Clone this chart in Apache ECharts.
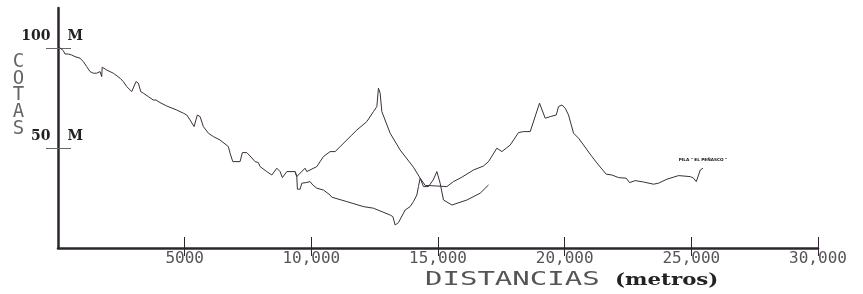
<!DOCTYPE html>
<html lang="es">
<head>
  <meta charset="utf-8">
  <title>Perfil - cotas vs distancias</title>
</head>
<body style="margin: 0; background: #fff">
  <div id="container" style="width: 863px; height: 294px"></div>
  <script src="https://cdn.jsdelivr.net/npm/echarts@6/dist/echarts.min.js"></script>
  <script>
    // perfil 1: desde el origen hasta ~17 km
    var distA = [12, 209, 276, 407, 541, 671, 869, 999, 1133, 1264, 1394, 1528, 1659, 1726, 1745, 1923, 2184, 2448, 2579, 2713,
      2910, 2974, 3080, 3171, 3266, 3369, 3566, 3763, 3870, 4028, 4293, 4687, 4948, 5082, 5213, 5371, 5501, 5608, 5738, 5935,
      6133, 6397, 6725, 6792, 6899, 6962, 7187, 7278, 7452, 7582, 7780, 7910, 7977, 8242, 8439, 8637, 8767, 8858, 9032, 9359,
      9426, 9450, 9557, 9624, 9794, 9952, 10058, 10216, 10477, 10741, 10808, 11401, 12056, 12451, 13111, 13217, 13308, 13439, 13506, 13703,
      13900, 14031, 14165, 14228, 14296, 14427, 14623, 14809, 14955, 15085, 15216, 15548, 16140, 16665, 16993];
    var elevA = [100.7, 98.7, 97, 97, 96.5, 95.7, 94.9, 93.2, 90.7, 88.2, 87.4, 87.4, 88.2, 85.7, 90.4, 89, 87.4, 84.9, 83.2, 80.7,
      78.2, 79, 83.2, 82.4, 78.2, 77.4, 75.7, 74, 74, 72.7, 71, 69, 67.4, 66.5, 64, 60.7, 66.5, 65.7, 60.7, 57.4,
      55.7, 54, 50.7, 47.4, 43.2, 43.7, 43.2, 47.7, 47.7, 46, 43.2, 42.7, 40.7, 38.2, 36.5, 39.9, 38.2, 35.2, 38.2, 38.2,
      35.7, 29.4, 29.4, 32.4, 32.7, 33.2, 31.5, 29.9, 29, 26.5, 25.4, 23.2, 20.7, 19.9, 16.5, 15.7, 11.5, 12.7, 13.2, 19,
      20.7, 23.2, 26.5, 30.7, 34.9, 30.7, 30.7, 34, 38.2, 32.4, 24, 21.5, 24, 27.4, 31.5];

    // perfil 2: desde ~9.4 km hasta la pila
    var distB = [9359, 9426, 9752, 9820, 10216, 10477, 10741, 10939, 11598, 11796, 12191, 12451, 12586, 12649, 12716, 12783, 13111, 13506, 14031, 14296,
      14493, 14955, 15350, 15611, 15942, 16400, 16795, 16993, 17324, 17522, 17850, 18178, 18245, 18375, 18640, 19007, 19232, 19430, 19667, 19758,
      19891, 20022, 20152, 20350, 20547, 20745, 21076, 21337, 21641, 21866, 22127, 22431, 22561, 22786, 23114, 23509, 23706, 24038, 24496, 24958,
      25088, 25195, 25353, 25459];
    var elevB = [38.2, 35.7, 39.9, 38.2, 40.7, 45.7, 48.2, 48.2, 56.5, 59, 63.2, 68.2, 70.7, 79.9, 77.4, 68.2, 57.4, 49, 40.4, 34.9,
      31.3, 31, 30.7, 33.2, 35.4, 39, 41, 43.2, 49.9, 48.2, 51.5, 57.7, 57, 58.2, 58.2, 72.4, 64.9, 65.7, 66.5, 70.7,
      71.5, 69.9, 66.5, 57.4, 54.9, 51.5, 45.7, 41.5, 36.9, 36.5, 35.2, 34.9, 32.7, 33.7, 33, 31.9, 32.4, 34.4, 36.2, 35.7,
      34.9, 33.2, 39, 39.9];

    var xTicks = [5000, 10000, 15000, 20000, 25000, 30000];
    var xTickLabels = ['5000', '10,000', '15,000', '20,000', '25,000', '30,000'];
    var yTicks = [50, 100];
    var yTickLabels = ['50', '100'];
    var yUnit = 'M';
    var pilaName = 'PILA " EL PEÑASCO "';

    function pairs(xs, ys) {
      var out = [];
      for (var i = 0; i < xs.length; i++) {
        out.push([xs[i], ys[i]]);
      }
      return out;
    }

    var ink = '#2e2430';
    var lineColor = '#3a2e3a';

    var chart = echarts.init(document.getElementById('container'), null, { renderer: 'canvas' });

    var option = {
      animation: false,
      grid: { left: 58, right: 45, top: 8, bottom: 46 },
      xAxis: [
        {
          type: 'value', min: 0, max: 30000, position: 'bottom',
          axisLine: { show: true, onZero: false, lineStyle: { color: ink, width: 2.5 } },
          axisTick: { show: true, inside: true, length: 11, customValues: xTicks, lineStyle: { color: ink, width: 1 } },
          axisLabel: {
            customValues: xTicks,
            margin: 3,
            fontFamily: 'DejaVu Sans Mono',
            fontSize: 16,
            color: '#555',
            formatter: function (v) {
              var i = xTicks.indexOf(v);
              return i < 0 ? '' : xTickLabels[i];
            }
          },
          splitLine: { show: false }
        },
        {
          // parte exterior de las marcas
          type: 'value', min: 0, max: 30000, position: 'bottom',
          axisLine: { show: false, onZero: false },
          axisTick: { show: true, inside: false, length: 8, customValues: xTicks, lineStyle: { color: ink, width: 1 } },
          axisLabel: { show: false },
          splitLine: { show: false }
        }
      ],
      yAxis: [
        {
          type: 'value', min: 0, max: 120, position: 'left',
          axisLine: { show: true, onZero: false, lineStyle: { color: ink, width: 2.5 } },
          axisTick: { show: true, inside: false, length: 12, customValues: yTicks, lineStyle: { color: '#666', width: 1 } },
          axisLabel: {
            customValues: yTicks,
            margin: -25,
            align: 'right',
            verticalAlign: 'bottom',
            padding: [0, 0, 4, 0],
            formatter: function (v) {
              var i = yTicks.indexOf(v);
              return i < 0 ? '' : '{n|' + yTickLabels[i] + '}{g|}{n|' + yUnit + '}';
            },
            rich: {
              n: { fontFamily: 'DejaVu Serif', fontWeight: 'bold', fontSize: 14, color: '#222', lineHeight: 16 },
              g: { width: 17 }
            }
          },
          splitLine: { show: false }
        },
        {
          type: 'value', min: 0, max: 120, position: 'left',
          axisLine: { show: false, onZero: false },
          axisTick: { show: true, inside: true, length: 13, customValues: yTicks, lineStyle: { color: '#666', width: 1 } },
          axisLabel: { show: false },
          splitLine: { show: false }
        }
      ],
      series: [
        {
          type: 'line',
          data: pairs(distA, elevA),
          showSymbol: false,
          symbol: 'none',
          silent: true,
          lineStyle: { color: lineColor, width: 1 }
        },
        {
          type: 'line',
          data: pairs(distB, elevB),
          showSymbol: false,
          symbol: 'none',
          silent: true,
          lineStyle: { color: lineColor, width: 1 },
          markPoint: {
            silent: true,
            symbol: 'circle',
            symbolSize: 0,
            data: [{
              coord: [distB[distB.length - 1], elevB[elevB.length - 1]],
              label: {
                show: true,
                position: 'top',
                distance: 6,
                formatter: pilaName,
                fontFamily: 'DejaVu Sans',
                fontWeight: 'bold',
                fontSize: 4.2,
                color: '#111'
              }
            }]
          }
        }
      ],
      graphic: [
        {
          type: 'text', x: 18.5, y: 54,
          style: {
            text: 'C\nO\nT\nA\nS',
            fontFamily: 'DejaVu Sans Mono',
            fontSize: 19,
            lineHeight: 16.6,
            fill: '#666',
            align: 'center',
            verticalAlign: 'top'
          }
        },
        {
          type: 'text', x: 425, y: 280, scaleX: 1.45,
          style: {
            text: 'DISTANCIAS',
            fontFamily: 'DejaVu Sans Mono',
            fontSize: 20,
            fill: '#555',
            align: 'left',
            verticalAlign: 'middle'
          }
        },
        {
          type: 'text', x: 615, y: 281, scaleX: 1.33,
          style: {
            text: '(metros)',
            fontFamily: 'DejaVu Serif',
            fontWeight: 'bold',
            fontSize: 16,
            fill: '#222',
            align: 'left',
            verticalAlign: 'middle'
          }
        }
      ]
    };

    chart.setOption(option);
  </script>
</body>
</html>
